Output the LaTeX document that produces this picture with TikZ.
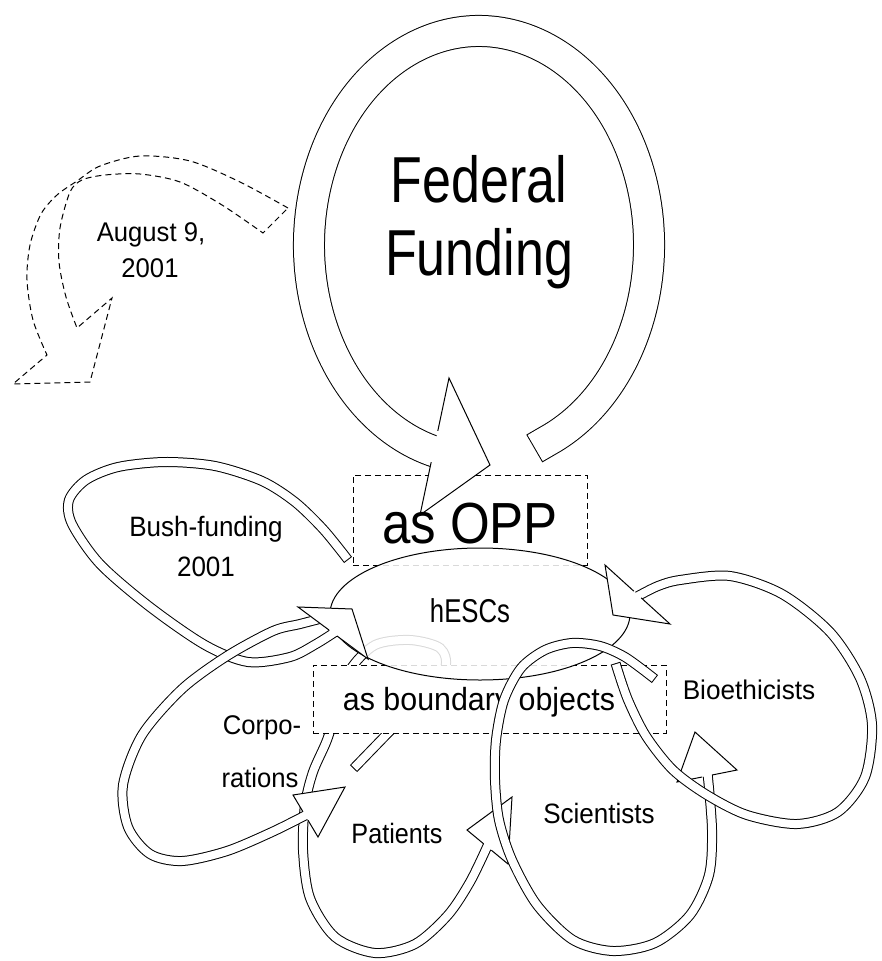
\documentclass[tikz,border=0pt]{standalone}
\usepackage{fontspec}
\setmainfont{Liberation Sans}
\usepackage{graphicx}
\usetikzlibrary{calc,shapes.geometric}

% text of a given size, squeezed horizontally
\newcommand\lbl[3]{{\fontsize{#1pt}{#1pt}\selectfont\scalebox{#2}[1]{#3}}}
% hollow arrow head: barb, tip, barb, half width of the band that enters it
\newcommand\hollowhead[4]{%
  \coordinate (hm) at ($(#1)!0.5!(#3)$);
  \fill[white] (#1) -- (#2) -- (#3) -- cycle;
  \draw[headline] ($(hm)!#4!(#1)$) -- (#1) -- (#2) -- (#3) -- ($(hm)!#4!(#3)$);
}

\begin{document}
\begin{tikzpicture}[x=1pt, y=-1pt,
  band/.style={line width=1pt, double=white, double distance=8pt, line cap=rect},
  wideband/.style={line width=1pt, double=white, double distance=30pt, line cap=rect},
  headline/.style={line width=1pt, line join=miter, miter limit=20},
  frame/.style={draw, line width=1pt, dash pattern=on 6pt off 4pt, inner sep=0pt},
  txt/.style={inner sep=0pt, anchor=base}]

\useasboundingbox (0,0) rectangle (881,961);

% ---- dashed curved arrow: August 9, 2001
\draw[line width=1pt, dash pattern=on 6pt off 4pt, line join=miter]
  plot[smooth] coordinates {(288,208) (240,182) (190,161) (140,156) (100,166) (77,181) (57,195) (41,214) (30,245) (27,280) (33,320) (47,355)}
  -- (13,384) -- (90,382) -- (112,298)
  -- plot[smooth] coordinates {(77,328) (66,297) (59,262) (60,228) (70,192) (82,180) (105,175) (140,174) (180,182) (222,205) (263,233)}
  -- cycle;
\node[txt] (aug1) at (151,241) {\lbl{27}{0.95}{August 9,}};
\node[txt] (aug2) at (150,277) {\lbl{27}{0.95}{2001}};

% ---- Federal Funding loop into "as OPP"
\node[frame, minimum width=234pt, minimum height=90pt] (oppbox) at (470,520) {};
\coordinate (fedc) at (479,245);
\draw[wideband] (fedc) ++(66:170 and 214) arc[start angle=66, end angle=-255, x radius=170, y radius=214];
\coordinate (fA) at (449,378);
\coordinate (fT) at (490,465);
\coordinate (fB) at (420,515);
\hollowhead{fA}{fT}{fB}{16pt}
\node[txt] (fed1) at (479,202) {\lbl{65}{0.8}{Federal}};
\node[txt] (fed2) at (479,275) {\lbl{65}{0.8}{Funding}};
\node[txt] (opp) at (470,543) {\lbl{58}{0.88}{as OPP}};

% ---- Patients loop (its upper part runs behind the frame and the ellipse)
\draw[band] plot[smooth] coordinates {(357,765) (387,734) (420,700) (445,668) (440,648) (410,640) (375,645) (350,670) (338,705) (327,740) (313,772) (305,805) (303,850) (310,898) (335,937) (375,953) (415,944) (448,915) (470,882) (487,847)};

% ---- boundary objects frame
\node[frame, fill=white, minimum width=353pt, minimum height=68pt] (bdbox) at (489.5,699) {};
\node[txt] (bdtext) at (479,710) {\lbl{32}{0.95}{as boundary objects}};

% ---- Bush-funding loop and Corporations loop
\draw[band] plot[smooth] coordinates {(345,556) (323,529) (295,502) (262,481) (215,466) (165,462) (118,467) (86,480) (69,500) (72,524) (100,564) (150,607) (205,645) (248,662) (290,657) (316,644) (335,632)};
\draw[band] plot[smooth] coordinates {(327,617) (300,624) (273,631) (227,656) (182,689) (142,735) (123,785) (128,827) (150,854) (182,861) (227,851) (272,832) (306,815)};

% ---- hESCs
\node[ellipse, draw, line width=1pt, minimum width=300pt, minimum height=132pt, inner sep=0pt, fill=white, fill opacity=0.85] (hesc) at (480,614) {};
\node[txt] (hesctxt) at (470,622) {\lbl{33}{0.78}{hESCs}};

% ---- heads of the Bush, Corporations and Patients loops
\coordinate (bA) at (298,607);
\coordinate (bT) at (352,609);
\coordinate (bB) at (368,659);
\hollowhead{bA}{bT}{bB}{5pt}
\coordinate (cA) at (293,795);
\coordinate (cT) at (345,787);
\coordinate (cB) at (318,837);
\hollowhead{cA}{cT}{cB}{5pt}
\coordinate (pA) at (467,830);
\coordinate (pT) at (512,797);
\coordinate (pB) at (508,864);
\hollowhead{pA}{pT}{pB}{5pt}

% ---- Scientists loop
\draw[band] plot[smooth] coordinates {(651,676) (625,657) (600,646) (572,643) (545,650) (521,668) (504,700) (496,740) (495,780) (499,820) (512,860) (537,905) (573,940) (613,951) (655,943) (690,915) (709,875) (712,830) (708,778)};
\coordinate (sA) at (677,782);
\coordinate (sT) at (695,732);
\coordinate (sB) at (737,770);
\hollowhead{sA}{sT}{sB}{5pt}

% ---- Bioethicists loop
\draw[band] plot[smooth] coordinates {(617,668) (628,700) (646,736) (673,770) (707,795) (747,815) (797,824) (838,812) (865,777) (872,725) (860,678) (830,632) (782,594) (730,576) (680,580) (658,586) (638,596)};
\coordinate (eA) at (605,565);
\coordinate (eT) at (613,615);
\coordinate (eB) at (670,624);
\hollowhead{eA}{eT}{eB}{5pt}

% ---- actor labels
\node[txt] (bush1) at (206,536) {\lbl{28}{0.93}{Bush-funding}};
\node[txt] (bush2) at (206,576) {\lbl{28}{0.93}{2001}};
\node[txt] (corp1) at (262,734) {\lbl{27}{0.95}{Corpo-}};
\node[txt] (corp2) at (260,787) {\lbl{27}{0.95}{rations}};
\node[txt] (pat) at (397,843) {\lbl{28}{0.9}{Patients}};
\node[txt] (sci) at (599,823) {\lbl{28}{0.93}{Scientists}};
\node[txt] (bio) at (749,699) {\lbl{27}{0.97}{Bioethicists}};
\end{tikzpicture}
\end{document}
